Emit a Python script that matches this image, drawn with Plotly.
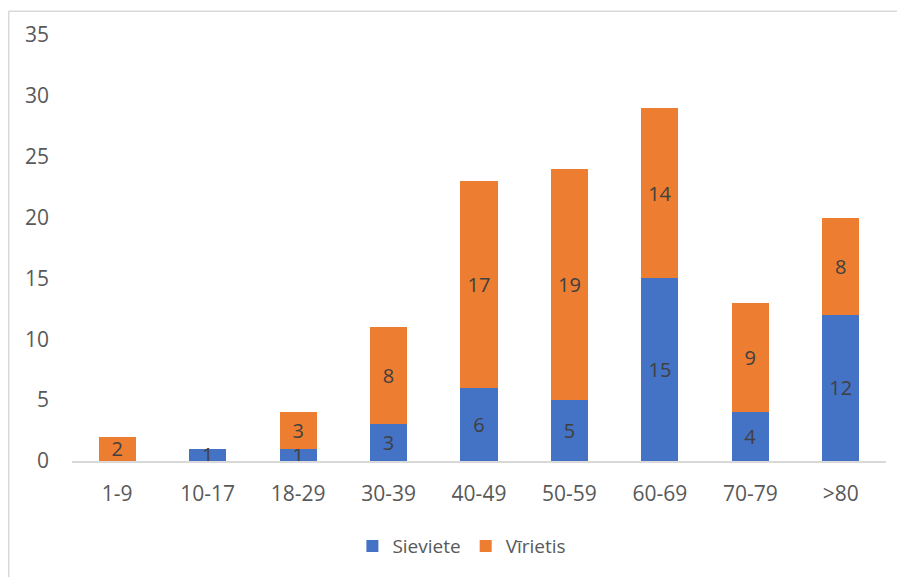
import plotly.graph_objects as go

categories = ["1-9", "10-17", "18-29", "30-39", "40-49", "50-59", "60-69", "70-79", ">80"]
sieviete = [0, 1, 1, 3, 6, 5, 15, 4, 12]
virietis = [2, 0, 3, 8, 17, 19, 14, 9, 8]
y_ticks = [0, 5, 10, 15, 20, 25, 30, 35]

BLUE = "#4472C4"
ORANGE = "#ED7D31"
FONT = "Open Sans"

def labels(vals):
    return [str(v) if v else "" for v in vals]

fig = go.Figure()
fig.add_trace(go.Bar(
    x=categories, y=sieviete, name="Sieviete", marker=dict(color=BLUE, line=dict(width=0)),
    text=labels(sieviete), textposition="inside", insidetextanchor="middle",
    constraintext="none", textangle=0,
    textfont=dict(family=FONT, size=20, color="#404040"),
))
fig.add_trace(go.Bar(
    x=categories, y=virietis, name="Vīrietis", marker=dict(color=ORANGE, line=dict(width=0)),
    text=labels(virietis), textposition="inside", insidetextanchor="middle",
    constraintext="none", textangle=0,
    textfont=dict(family=FONT, size=20, color="#404040"),
))

# page body has an 8px margin: figure origin sits at (8, 8) in the window
fig.update_layout(
    barmode="stack",
    bargap=0.59,
    width=897, height=569,
    margin=dict(l=64, r=19, t=25, b=113),
    paper_bgcolor="white", plot_bgcolor="white",
    font=dict(family=FONT, size=20, color="#595959"),
    showlegend=True,
    legend=dict(orientation="h", traceorder="normal", x=0.479, xanchor="center",
                y=-0.2, yanchor="middle",
                font=dict(family=FONT, size=19, color="#595959"),
                itemwidth=30, tracegroupgap=0),
    xaxis=dict(showgrid=False, showline=True, linecolor="#D9D9D9", linewidth=1.5,
               ticks="", tickfont=dict(family=FONT, size=21, color="#595959"),
               ticklabelstandoff=13, fixedrange=True),
    yaxis=dict(range=[0, 35], tickvals=y_ticks, showgrid=False, zeroline=False,
               showline=False, ticks="", tickfont=dict(family=FONT, size=21, color="#595959"),
               ticklabelstandoff=22, fixedrange=True),
    shapes=[
        dict(type="line", xref="paper", yref="paper", x0=-0.0777, x1=-0.0777, y0=1.056, y1=-0.3,
             line=dict(color="#D9D9D9", width=1.5)),
        dict(type="line", xref="paper", yref="paper", x0=-0.0777, x1=1.03, y0=1.056, y1=1.056,
             line=dict(color="#D9D9D9", width=1.5)),
    ],
)

fig.write_html("out.html")
